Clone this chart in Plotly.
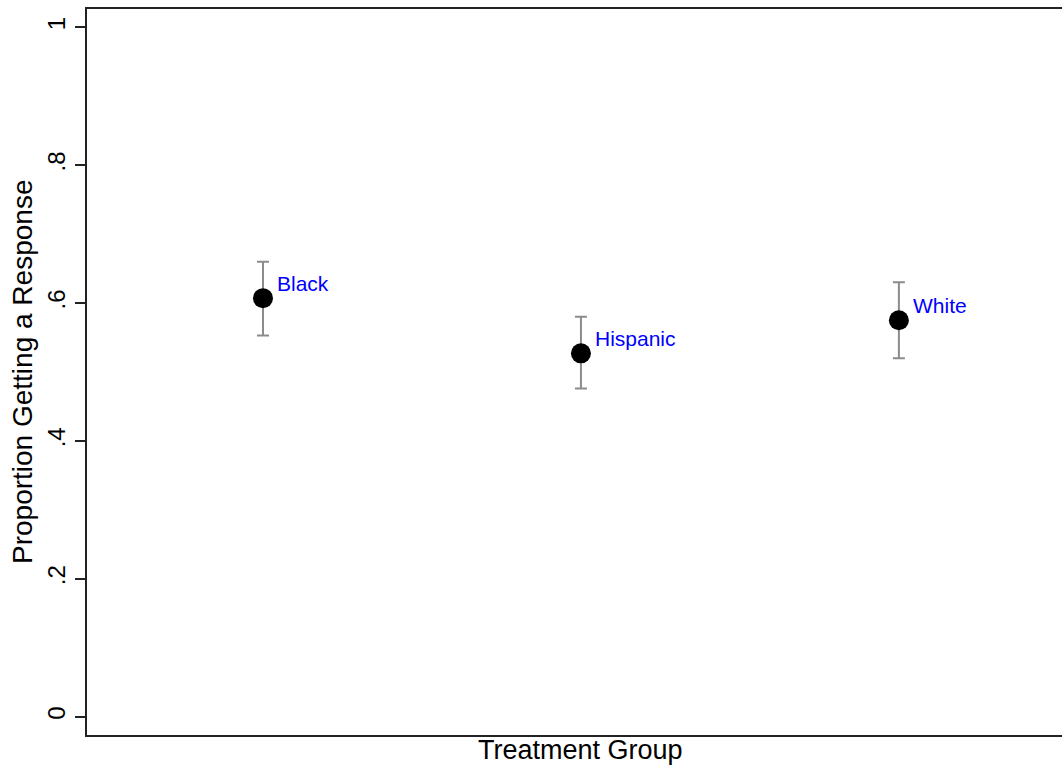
import plotly.graph_objects as go

groups = ["Black", "Hispanic", "White"]
xpos = [1, 2, 3]
proportion = [0.607, 0.527, 0.575]
ci_upper = [0.660, 0.580, 0.630]
ci_lower = [0.553, 0.476, 0.520]
ytick_vals = [0, 0.2, 0.4, 0.6, 0.8, 1]
ytick_text = ["0", ".2", ".4", ".6", ".8", "1"]

FONT = "Liberation Sans, Arial, sans-serif"

err_plus = [u - p for u, p in zip(ci_upper, proportion)]
err_minus = [p - l for p, l in zip(proportion, ci_lower)]

fig = go.Figure()
fig.add_trace(go.Scatter(
    x=xpos, y=proportion, mode="markers",
    marker=dict(color="black", size=20, symbol="circle"),
    error_y=dict(type="data", symmetric=False, array=err_plus, arrayminus=err_minus,
                 color="#8c8c8c", thickness=2, width=6),
    showlegend=False, hoverinfo="skip",
))

for x, y, g in zip(xpos, proportion, groups):
    fig.add_annotation(x=x, y=y, text=g, showarrow=False, xref="x", yref="y",
                       xanchor="left", yanchor="middle", xshift=12, yshift=15,
                       font=dict(family=FONT, size=21, color="#0000ff"))

fig.add_annotation(x=2, y=0, xref="x", yref="paper", text="Treatment Group",
                   showarrow=False, xanchor="center", yanchor="middle", yshift=-15,
                   font=dict(family=FONT, size=27, color="black"))
fig.add_annotation(x=0, y=0.5, xref="paper", yref="paper", text="Proportion Getting a Response",
                   showarrow=False, xanchor="center", yanchor="middle", xshift=-65,
                   textangle=-90, font=dict(family=FONT, size=28, color="black"))

fig.update_layout(
    width=1062, height=765,
    margin=dict(l=87, r=0, t=9, b=30),
    paper_bgcolor="white", plot_bgcolor="white",
    font=dict(family=FONT, color="black"),
)
fig.update_xaxes(range=[0.4465, 3.513], showgrid=False, zeroline=False,
                 showticklabels=False, ticks="", showline=True, linecolor="#222",
                 linewidth=2, mirror=True)
fig.update_yaxes(range=[-0.0265, 1.0264], showgrid=False, zeroline=False,
                 tickvals=ytick_vals, ticktext=ytick_text, ticks="outside",
                 ticklen=10, tickwidth=2, tickcolor="#222", tickangle=-90,
                 tickfont=dict(family=FONT, size=24, color="black"),
                 showline=True, linecolor="#222", linewidth=2, mirror=False)

fig.write_html("out.html", config={"displayModeBar": False},
               post_script="document.body.style.margin='0';document.body.style.overflow='hidden';")
